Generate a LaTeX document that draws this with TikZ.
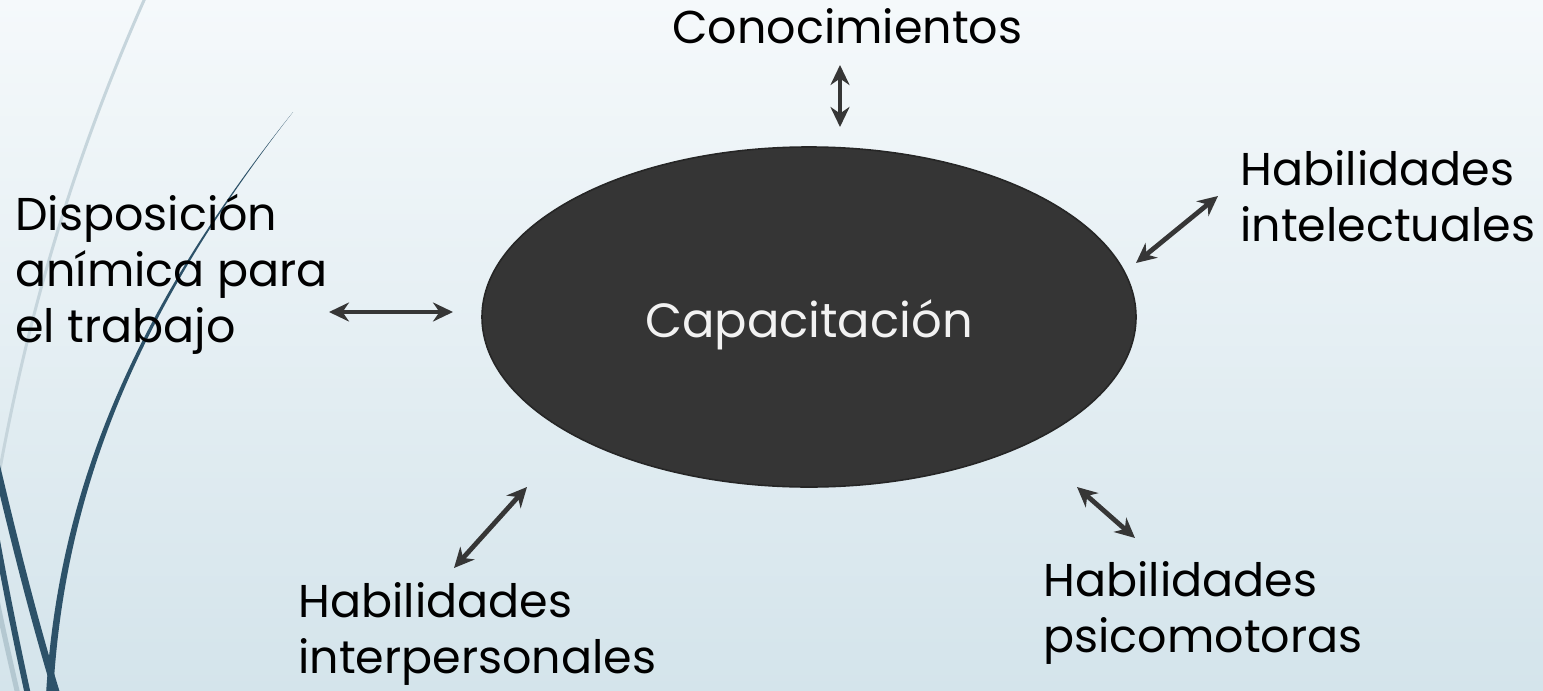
\documentclass[tikz,border=0pt]{standalone}
\usepackage{fontspec}
\setmainfont{Poppins}
\usetikzlibrary{arrows.meta,shapes.geometric}
\definecolor{wispdark}{HTML}{2D5269}
\definecolor{wisplight}{HTML}{C6D5DC}
\definecolor{wispband}{HTML}{B4C8D1}
\definecolor{arrowgray}{HTML}{363636}
\definecolor{ovalfill}{HTML}{353535}
\tikzset{
  label text/.style={anchor=base west, align=left, inner sep=0pt, text=black,
    font=\fontsize{23}{28}\selectfont},
  both ways/.style={arrowgray, line width=2.4pt,
    {Stealth[length=10pt,width=9.5pt]}-{Stealth[length=10pt,width=9.5pt]}},
  central oval/.style={ellipse, fill=ovalfill, draw=black!85, line width=0.8pt,
    minimum width=327pt, minimum height=170pt, inner sep=0pt, text=white!95!black,
    text height=20pt, text depth=0pt, font=\fontsize{24}{28}\selectfont},
}

\begin{document}
\begin{tikzpicture}[x=0.5pt,y=-0.5pt]
  \useasboundingbox (0,0) rectangle (1543,691);
  \shade[top color={rgb,255:red,245;green,249;blue,251}, bottom color={rgb,255:red,212;green,228;blue,235}]
    (0,0) rectangle (1543,691);
  % wisp lines on the left
  \draw[wisplight, line width=1.5pt] (145,-2) .. controls (73,160) and (27,317) .. (-2,480);
  \draw[wispband, line width=2.5pt] (-3,600) .. controls (3,630) and (10,660) .. (18,695);
  \fill[wispdark] (293,112) .. controls (133,312) and (58,491) .. (46,695)
    -- (53,695) .. controls (64,491) and (137,312) .. (293,112) -- cycle;
  \draw[wispdark, line width=3.5pt] (-6,455) .. controls (14,540) and (34,620) .. (57,695);
  \draw[wispdark, line width=3pt] (-4,535) .. controls (6,590) and (16,640) .. (28,695);
  % centre and labels (base = last line)
  \node[central oval] (capac) at (809,317) {Capacitación};
  \node[label text] (conoc) at (672,43) {Conocimientos};
  \node[label text] (dispo) at (15,342) {Disposición\\anímica para\\el trabajo};
  \node[label text] (intel) at (1240,241) {Habilidades\\intelectuales};
  \node[label text] (inter) at (298,673) {Habilidades\\interpersonales};
  \node[label text] (psico) at (1043,652) {Habilidades\\psicomotoras};
  % arrow ends
  \coordinate (conoc-a) at (840,65);
  \coordinate (conoc-b) at (840,127);
  \coordinate (dispo-a) at (329,312);
  \coordinate (dispo-b) at (453,312);
  \coordinate (intel-a) at (1218,196);
  \coordinate (intel-b) at (1136,263);
  \coordinate (inter-a) at (454,568);
  \coordinate (inter-b) at (527,487);
  \coordinate (psico-a) at (1077,487);
  \coordinate (psico-b) at (1135,538);
  \foreach \n in {conoc,dispo,intel,inter,psico}
    \draw[both ways] (\n-a) -- (\n-b);
\end{tikzpicture}
\end{document}
